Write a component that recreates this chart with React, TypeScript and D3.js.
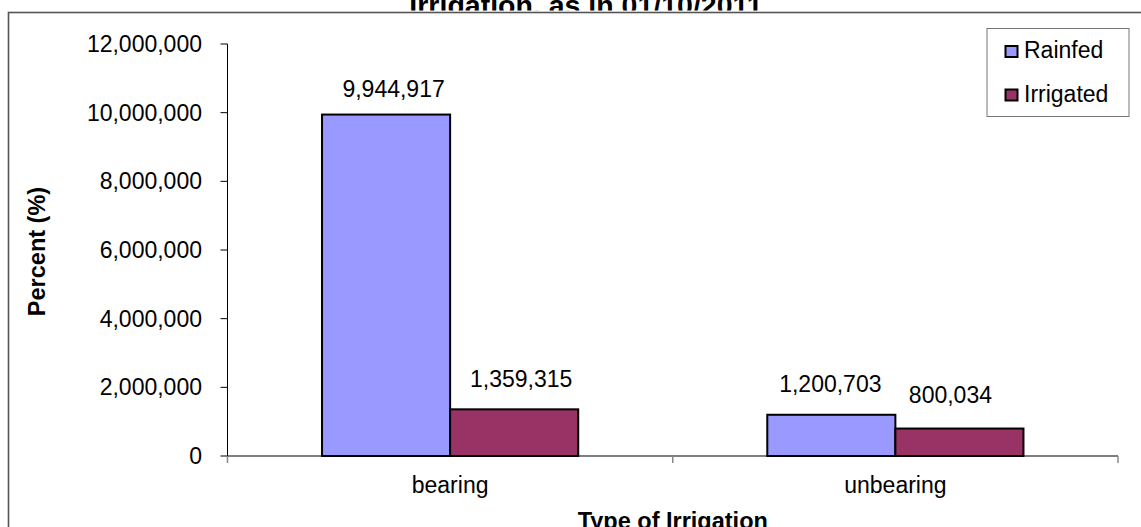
import React from "react";
import * as d3 from "d3";

const categories = ["bearing", "unbearing"];
const seriesNames = ["Rainfed", "Irrigated"];
const rainfed = [9944917, 1200703];
const irrigated = [1359315, 800034];
const yTicks = [0, 2000000, 4000000, 6000000, 8000000, 10000000, 12000000];
const titleText = "Irrigation, as in 01/10/2011";
const xTitle = "Type of Irrigation";
const yTitle = "Percent (%)";

const W = 1141;
const H = 527;
const PLOT = { left: 227.5, right: 1118, top: 44, bottom: 456 };
const COLORS = ["#9999FF", "#993366"];
const FONT = "'Liberation Sans', Arial, Helvetica, sans-serif";
const FS = 23;
// manual label nudges [dx, dy above bar top], per series per category
const LABEL_NUDGE = [
  [[7.5, 18], [-1, 23]],
  [[7, 22.5], [-9, 26]],
];

export default function App() {
  const x0 = d3.scaleBand<string>().domain(categories).range([PLOT.left, PLOT.right]).padding(0);
  const x1 = d3
    .scaleBand<string>()
    .domain(seriesNames)
    .range([0, x0.bandwidth()])
    .paddingInner(0)
    .paddingOuter(0.738);
  const y = d3.scaleLinear().domain([0, 12000000]).range([PLOT.bottom, PLOT.top]);
  const fmt = d3.format(",");
  const data = [rainfed, irrigated];

  const catTicks = [...categories.map((c) => x0(c) as number), PLOT.right];

  return (
    <svg
      width={W}
      height={H}
      style={{ position: "absolute", left: 0, top: 0, display: "block", background: "#fff" }}
      fontFamily={FONT}
    >
      <defs>
        <clipPath id="titleClip">
          <rect x={0} y={-60} width={W} height={70.5} />
        </clipPath>
      </defs>
      <rect x={0} y={0} width={W} height={H} fill="#fff" />
      {/* title (partially cropped) */}
      <text
        clipPath="url(#titleClip)"
        x={586}
        y={15}
        textAnchor="middle"
        fontWeight="bold"
        fontSize={28.5}
        fill="#000"
      >
        {titleText}
      </text>
      {/* chart frame */}
      <rect x={8.5} y={12.5} width={1180} height={560} fill="none" stroke="#555" strokeWidth={1.6} />

      {/* bars */}
      {data.map((vals, si) =>
        vals.map((v, ci) => {
          const bx = (x0(categories[ci]) as number) + (x1(seriesNames[si]) as number);
          return (
            <rect
              key={`b${si}-${ci}`}
              x={bx}
              y={y(v)}
              width={x1.bandwidth()}
              height={y(0) - y(v)}
              fill={COLORS[si]}
              stroke="#000"
              strokeWidth={2}
            />
          );
        })
      )}

      {/* value labels */}
      {data.map((vals, si) =>
        vals.map((v, ci) => {
          const bx = (x0(categories[ci]) as number) + (x1(seriesNames[si]) as number) + x1.bandwidth() / 2;
          const [dx, dy] = LABEL_NUDGE[si][ci];
          return (
            <text key={`l${si}-${ci}`} x={bx + dx} y={y(v) - dy} textAnchor="middle" fontSize={FS} fill="#000">
              {fmt(v)}
            </text>
          );
        })
      )}

      {/* y axis */}
      <line x1={PLOT.left} x2={PLOT.left} y1={PLOT.top} y2={PLOT.bottom} stroke="#000" strokeWidth={1} />
      {yTicks.map((t) => (
        <g key={`yt${t}`}>
          <line x1={PLOT.left - 7} x2={PLOT.left} y1={y(t)} y2={y(t)} stroke="#000" strokeWidth={1} />
          <text x={202} y={y(t) + 8} textAnchor="end" fontSize={FS} fill="#000">
            {fmt(t)}
          </text>
        </g>
      ))}

      {/* x axis */}
      <line x1={PLOT.left} x2={PLOT.right} y1={PLOT.bottom} y2={PLOT.bottom} stroke="#000" strokeWidth={1.2} />
      {catTicks.map((tx, i) => (
        <line key={`xt${i}`} x1={tx} x2={tx} y1={PLOT.bottom} y2={PLOT.bottom + 7} stroke="#888" strokeWidth={1.5} />
      ))}
      {categories.map((c) => (
        <text
          key={`xl${c}`}
          x={(x0(c) as number) + x0.bandwidth() / 2}
          y={493}
          textAnchor="middle"
          fontSize={FS}
          fill="#000"
        >
          {c}
        </text>
      ))}

      {/* axis titles */}
      <text x={(PLOT.left + PLOT.right) / 2} y={529} textAnchor="middle" fontWeight="bold" fontSize={FS + 0.5} fill="#000">
        {xTitle}
      </text>
      <text
        transform={`translate(45,${251.5}) rotate(-90)`}
        textAnchor="middle"
        fontWeight="bold"
        fontSize={FS + 0.5}
        fill="#000"
      >
        {yTitle}
      </text>

      {/* legend */}
      <rect x={987} y={28.5} width={142} height={88} fill="#fff" stroke="#777" strokeWidth={1} />
      {seriesNames.map((s, i) => (
        <g key={`lg${s}`}>
          <rect x={1005.5} y={46 + i * 43.5} width={12} height={11} fill={COLORS[i]} stroke="#000" strokeWidth={2} />
          <text x={1024} y={58 + i * 44} fontSize={FS} fill="#000">
            {s}
          </text>
        </g>
      ))}
    </svg>
  );
}
